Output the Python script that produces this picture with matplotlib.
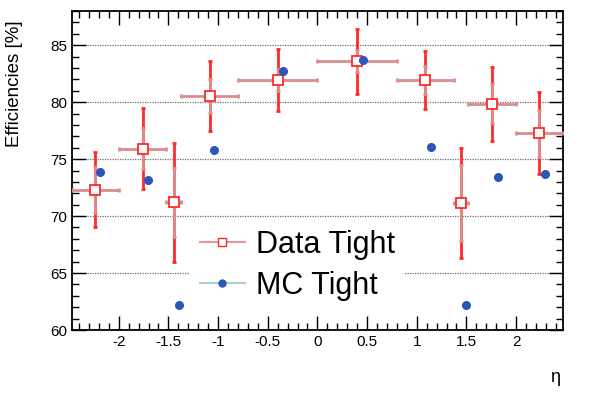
import matplotlib
matplotlib.use('Agg')
import matplotlib.pyplot as plt
from matplotlib.lines import Line2D
from matplotlib.ticker import MultipleLocator

plt.rcParams['font.family'] = ['Liberation Sans', 'DejaVu Sans']

# eta bins and efficiencies
bin_lo = [-2.47, -2.0, -1.52, -1.37, -0.8, 0.0, 0.8, 1.37, 1.52, 2.0]
bin_hi = [-2.0, -1.52, -1.37, -0.8, 0.0, 0.8, 1.37, 1.52, 2.0, 2.47]
data_eff = [72.3, 75.9, 71.2, 80.55, 81.95, 83.6, 81.95, 71.15, 79.85, 77.25]
data_stat = [2.0, 1.8, 3.0, 1.5, 1.0, 0.95, 1.25, 3.3, 1.7, 2.1]
data_tot = [3.3, 3.55, 5.2, 3.1, 2.7, 2.85, 2.55, 4.8, 3.25, 3.6]

mc_eta = [-2.185, -1.71, -1.39, -1.04, -0.35, 0.455, 1.14, 1.50, 1.815, 2.29]
mc_eff = [73.9, 73.2, 62.2, 75.8, 82.7, 83.7, 76.05, 62.2, 73.4, 73.65]

x = [(a + b) / 2 for a, b in zip(bin_lo, bin_hi)]
xerr = [(b - a) / 2 for a, b in zip(bin_lo, bin_hi)]

pink = '#dc8c8c'
red = '#ff2a2a'
blue = '#2f55b8'

fig = plt.figure(figsize=(6, 4), dpi=100)
ax = fig.add_axes([0.12, 0.175, 0.818, 0.7975])

ax.errorbar(x, data_eff, yerr=data_tot, fmt='none', ecolor=red, elinewidth=2,
            capsize=1.5, capthick=2, zorder=3)
ax.errorbar(x, data_eff, xerr=xerr, yerr=data_stat, fmt='none', ecolor=pink,
            elinewidth=2, capsize=1.5, capthick=2, zorder=4)
ax.plot(x, data_eff, 's', ms=6.5, mfc='white', mec=red, mew=1.3, zorder=5)
ax.plot(mc_eta, mc_eff, 'o', ms=5.5, color=blue, zorder=5)

ax.set_xlim(-2.47, 2.47)
ax.set_ylim(60, 88)
ax.xaxis.set_major_locator(MultipleLocator(0.5))
ax.xaxis.set_minor_locator(MultipleLocator(0.1))
ax.yaxis.set_major_locator(MultipleLocator(5))
ax.yaxis.set_minor_locator(MultipleLocator(1))
ax.set_xticks([-2, -1.5, -1, -0.5, 0, 0.5, 1, 1.5, 2])
ax.set_xticklabels(['-2', '-1.5', '-1', '-0.5', '0', '0.5', '1', '1.5', '2'])
ax.tick_params(which='both', direction='in', top=True, right=True, labelsize=11)
ax.tick_params(which='major', length=10, width=1)
ax.tick_params(which='minor', length=5, width=1)
for s in ax.spines.values():
    s.set_linewidth(1.3)

for yv in [65, 70, 75, 80, 85]:
    ax.axhline(yv, color='#707070', ls=(0, (1, 1)), lw=0.9, zorder=1)

handles = [
    Line2D([], [], color='#e89898', lw=1.5, marker='s', ms=6, mfc='white', mec=red),
    Line2D([], [], color='#a8d4bf', lw=1.5, marker='o', ms=5, mfc=blue, mec=blue),
]
leg = ax.legend(handles, ['Data Tight', 'MC Tight'], loc='center left',
                bbox_to_anchor=(0.21, 0.2025), fontsize=22, frameon=True,
                fancybox=False, edgecolor='none', facecolor='white', framealpha=1,
                handlelength=1.5, labelspacing=0.35, borderpad=0.3, handletextpad=0.35)
leg.set_zorder(2)

fig.text(0.025, 0.95, 'Efficiencies [%]', rotation=90, ha='center', va='top', fontsize=13.5)
fig.text(0.925, 0.055, 'η', ha='center', va='center', fontsize=13)

fig.savefig('out.png', dpi=100)
